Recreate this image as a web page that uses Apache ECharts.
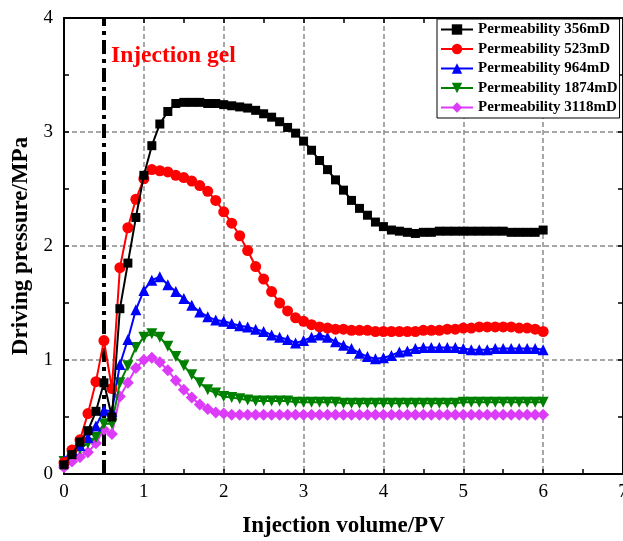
<!DOCTYPE html>
<html>
<head>
<meta charset="utf-8">
<script src="https://cdn.jsdelivr.net/npm/echarts@6/dist/echarts.min.js"></script>
<style>
html,body{margin:0;padding:0;background:#fff;}
#chart{width:623px;height:541px;}
</style>
</head>
<body>
<div id="chart"></div>
<script>
// Injection volume (PV)
const injectionVolume = [0,0.1,0.2,0.3,0.4,0.5,0.6,0.7,0.8,0.9,1.0,1.1,1.2,1.3,1.4,1.5,1.6,1.7,1.8,1.9,2.0,2.1,2.2,2.3,2.4,2.5,2.6,2.7,2.8,2.9,3.0,3.1,3.2,3.3,3.4,3.5,3.6,3.7,3.8,3.9,4.0,4.1,4.2,4.3,4.4,4.5,4.6,4.7,4.8,4.9,5.0,5.1,5.2,5.3,5.4,5.5,5.6,5.7,5.8,5.9,6.0];

const seriesNames = ['Permeability 356mD','Permeability 523mD','Permeability 964mD','Permeability 1874mD','Permeability 3118mD'];

const perm356 = [0.08,0.17,0.28,0.38,0.55,0.80,0.50,1.45,1.85,2.25,2.62,2.88,3.07,3.18,3.25,3.26,3.26,3.26,3.25,3.25,3.24,3.23,3.22,3.21,3.19,3.16,3.13,3.09,3.04,2.99,2.92,2.84,2.75,2.67,2.58,2.49,2.40,2.33,2.27,2.21,2.17,2.14,2.13,2.12,2.11,2.12,2.12,2.13,2.13,2.13,2.13,2.13,2.13,2.13,2.13,2.13,2.12,2.12,2.12,2.12,2.14];

const perm523 = [0.10,0.21,0.30,0.53,0.81,1.17,0.75,1.81,2.16,2.41,2.59,2.67,2.66,2.65,2.62,2.60,2.57,2.53,2.48,2.40,2.30,2.20,2.09,1.96,1.82,1.71,1.60,1.50,1.43,1.37,1.34,1.31,1.29,1.28,1.27,1.27,1.26,1.26,1.26,1.25,1.25,1.25,1.25,1.25,1.25,1.26,1.26,1.26,1.27,1.27,1.28,1.28,1.29,1.29,1.29,1.29,1.29,1.28,1.28,1.27,1.25];

const perm964 = [0.12,0.21,0.25,0.32,0.42,0.56,0.55,0.96,1.18,1.44,1.61,1.70,1.73,1.66,1.60,1.54,1.48,1.42,1.38,1.35,1.34,1.32,1.30,1.29,1.27,1.25,1.22,1.20,1.18,1.15,1.17,1.20,1.22,1.20,1.16,1.13,1.10,1.06,1.03,1.01,1.02,1.04,1.07,1.08,1.10,1.11,1.11,1.11,1.11,1.11,1.10,1.09,1.09,1.09,1.10,1.10,1.10,1.10,1.10,1.10,1.09];

const perm1874 = [0.11,0.18,0.22,0.27,0.32,0.44,0.44,0.80,0.95,1.11,1.20,1.23,1.20,1.12,1.03,0.95,0.87,0.80,0.74,0.71,0.68,0.67,0.66,0.65,0.64,0.64,0.64,0.64,0.64,0.63,0.63,0.63,0.63,0.63,0.63,0.62,0.62,0.62,0.62,0.62,0.62,0.62,0.62,0.62,0.62,0.62,0.62,0.62,0.62,0.62,0.63,0.63,0.63,0.63,0.63,0.63,0.63,0.63,0.63,0.63,0.63];

const perm3118 = [0.06,0.11,0.15,0.19,0.27,0.39,0.35,0.68,0.80,0.93,1.00,1.02,0.98,0.91,0.82,0.74,0.67,0.61,0.57,0.54,0.53,0.52,0.52,0.52,0.52,0.52,0.52,0.52,0.52,0.52,0.52,0.52,0.52,0.52,0.52,0.52,0.52,0.52,0.52,0.52,0.52,0.52,0.52,0.52,0.52,0.52,0.52,0.52,0.52,0.52,0.52,0.52,0.52,0.52,0.52,0.52,0.52,0.52,0.52,0.52,0.52];

const gelInjectionPV = 0.5;
const annotationText = 'Injection gel';

const FONT = "'Liberation Serif','Times New Roman',serif";
const colors = ['#000000','#ff0000','#0000ff','#008000','#dc3cf8'];
const symbols = ['rect','circle','triangle','triangle','diamond'];
const symbolRot = [0,0,0,180,0];
const symbolSizes = [9,11,11,11,12];
const allData = [perm356, perm523, perm964, perm1874, perm3118];

const chart = echarts.init(document.getElementById('chart'), null, {renderer:'canvas'});

const series = allData.map((vals, i) => ({
  name: seriesNames[i],
  type: 'line',
  xAxisIndex: 0,
  yAxisIndex: 0,
  data: injectionVolume.map((x, j) => [x, vals[j]]),
  symbol: symbols[i],
  symbolRotate: symbolRot[i],
  symbolSize: symbolSizes[i],
  showAllSymbol: true,
  lineStyle: {color: colors[i], width: 2},
  itemStyle: {color: colors[i]},
  z: 10 - i,
  animation: false
}));

series[0].markLine = {
  silent: true,
  symbol: 'none',
  label: {show: false},
  lineStyle: {color: '#000', width: 4, type: [14,5,4,5]},
  data: [{xAxis: gelInjectionPV}]
};

const gridLine = {show: true, lineStyle: {color: '#8a8a8a', width: 1.5, type: [5,3]}};

chart.setOption({
  animation: false,
  backgroundColor: '#fff',
  grid: {left: 64, right: 0, top: 18, bottom: 67, containLabel: false, outerBoundsMode: 'none'},
  legend: {
    data: seriesNames,
    orient: 'vertical',
    left: 437,
    top: 19,
    backgroundColor: '#fff',
    borderColor: '#000',
    borderWidth: 1,
    borderRadius: 0,
    padding: [3, 2, 3, 3],
    itemWidth: 32,
    itemHeight: 13,
    itemGap: 4.5,
    textStyle: {fontFamily: FONT, fontWeight: 'bold', fontSize: 15, color: '#000', lineHeight: 14.5},
    z: 20
  },
  xAxis: [{
    type: 'value', position: 'bottom', min: 0, max: 7, interval: 1,
    name: 'Injection volume/PV', nameLocation: 'middle', nameGap: 41,
    nameTextStyle: {fontFamily: FONT, fontWeight: 'bold', fontSize: 23, color: '#000'},
    axisLine: {show: true, onZero: false, lineStyle: {color: '#000', width: 2}},
    axisTick: {show: true, inside: true, length: 5, lineStyle: {color: '#000', width: 1.5}},
    minorTick: {show: true, splitNumber: 2, length: 5, lineStyle: {color: '#000', width: 1.5}},
    axisLabel: {fontFamily: FONT, fontSize: 19, color: '#000', margin: 9},
    splitLine: gridLine
  },{
    type: 'value', position: 'top', min: 0, max: 7, interval: 1,
    axisLine: {show: true, onZero: false, lineStyle: {color: '#000', width: 2}},
    axisTick: {show: true, inside: true, length: 5, lineStyle: {color: '#000', width: 1.5}},
    minorTick: {show: true, splitNumber: 2, length: 5, lineStyle: {color: '#000', width: 1.5}},
    axisLabel: {show: false},
    splitLine: {show: false}
  }],
  yAxis: [{
    type: 'value', position: 'left', min: 0, max: 4, interval: 1,
    name: 'Driving pressure/MPa', nameLocation: 'middle', nameGap: 27, nameRotate: 90,
    nameTextStyle: {fontFamily: FONT, fontWeight: 'bold', fontSize: 23, color: '#000'},
    axisLine: {show: true, onZero: false, lineStyle: {color: '#000', width: 2}},
    axisTick: {show: true, inside: true, length: 5, lineStyle: {color: '#000', width: 1.5}},
    minorTick: {show: true, splitNumber: 2, length: 5, lineStyle: {color: '#000', width: 1.5}},
    axisLabel: {fontFamily: FONT, fontSize: 19, color: '#000', margin: 11},
    splitLine: gridLine
  },{
    type: 'value', position: 'right', min: 0, max: 4, interval: 1,
    axisLine: {show: true, onZero: false, lineStyle: {color: '#000', width: 2}},
    axisTick: {show: true, inside: true, length: 5, lineStyle: {color: '#000', width: 1.5}},
    minorTick: {show: true, splitNumber: 2, length: 5, lineStyle: {color: '#000', width: 1.5}},
    axisLabel: {show: false},
    splitLine: {show: false}
  }],
  graphic: [{
    type: 'text',
    left: 111,
    top: 44,
    z: 30,
    style: {text: annotationText, fill: '#ff0000', font: "bold 23.5px 'Liberation Serif','Times New Roman',serif"}
  }],
  series: series
});
</script>
</body>
</html>
